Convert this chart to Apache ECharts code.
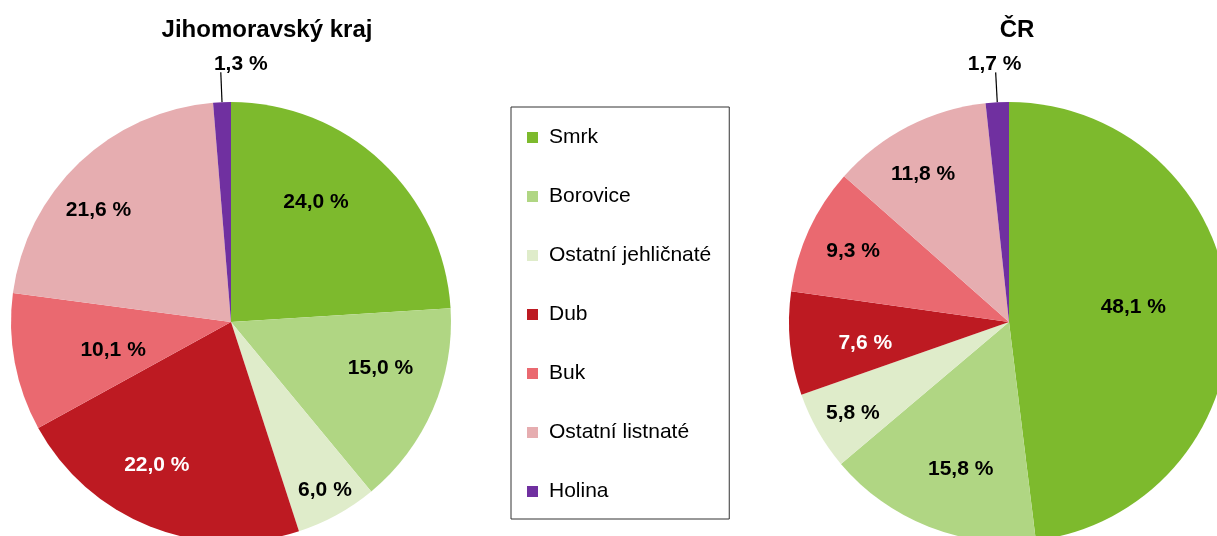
<!DOCTYPE html>
<html>
<head>
<meta charset="utf-8">
<script src="https://cdn.jsdelivr.net/npm/echarts@6/dist/echarts.min.js"></script>
<style>
  html, body { margin: 0; padding: 0; background: #fff; }
  #chart { width: 1217px; height: 536px; }
</style>
</head>
<body>
<div id="chart"></div>
<script>
// druhy dřevin (legenda)
const categories = ["Smrk", "Borovice", "Ostatní jehličnaté", "Dub", "Buk", "Ostatní listnaté", "Holina"];
// podíly v % - Jihomoravský kraj
const jmkValues = [24.0, 15.0, 6.0, 22.0, 10.1, 21.6, 1.3];
// podíly v % - ČR
const crValues = [48.1, 15.8, 5.8, 7.6, 9.3, 11.8, 1.7];
const titles = ["Jihomoravský kraj", "ČR"];

const FONT = "'Liberation Sans', Arial, Helvetica, sans-serif";
const colors = ["#7dba2d", "#b0d683", "#dfecca", "#bd1a22", "#ea6970", "#e6adb0", "#7030a0"];
// umístění popisků jako "best fit" v Excelu:
// vzdálenost od středu (podíl poloměru) a pootočení od středu výseče (stupně)
const labelDist = [
  [0.67, 0.71, 0.87, 0.73, 0.55, 0.79],
  [0.57, 0.70, 0.82, 0.66, 0.78, 0.78]
];
const labelTurn = [
  [-8, -6.6, -0.6, 5.9, -2.4, -6.1],
  [-3.9, -3.1, -0.3, -2.5, 0, -2.7]
];

const R = 220;

function fmt(v) {
  return v.toFixed(1).replace(".", ",") + " %";
}

function buildPie(values, idx, center, holinaShift) {
  return {
    type: "pie",
    center: center,
    radius: R,
    startAngle: 90,
    clockwise: true,
    avoidLabelOverlap: false,
    animation: false,
    data: values.map(function (v, i) {
      const last = i === values.length - 1;
      return {
        name: categories[i],
        value: v,
        itemStyle: { color: colors[i] },
        label: last
          ? { position: "outside", color: "#000" }
          : { position: "inside", color: i === 3 ? "#fff" : "#000" },
        labelLine: { show: last }
      };
    }),
    label: {
      formatter: function (p) { return fmt(p.value); },
      fontFamily: FONT,
      fontWeight: "bold",
      fontSize: 21
    },
    labelLine: {
      length: 30,
      length2: 0,
      lineStyle: { color: "#000", width: 1.2 }
    },
    labelLayout: function (params) {
      if (params.dataIndex === values.length - 1) {
        const pts = params.labelLinePoints;
        const end = pts[pts.length - 1];
        return {
          x: end[0] + holinaShift,
          y: end[1] - 8,
          align: "center",
          verticalAlign: "middle",
          labelLinePoints: pts
        };
      }
      const r = params.labelRect;
      const lx = r.x + r.width / 2;
      const ly = r.y + r.height / 2;
      // úhel středu výseče (po směru hodin od vrcholu)
      const mid = Math.atan2(lx - center[0], center[1] - ly);
      const a = mid + labelTurn[idx][params.dataIndex] * Math.PI / 180;
      const d = labelDist[idx][params.dataIndex] * R;
      return {
        x: center[0] + d * Math.sin(a),
        y: center[1] - d * Math.cos(a) + 1,
        align: "center",
        verticalAlign: "middle"
      };
    }
  };
}

const chart = echarts.init(document.getElementById("chart"));
chart.setOption({
  backgroundColor: "#fff",
  animation: false,
  title: [
    { text: titles[0], left: 267, top: 18, textAlign: "center", padding: 0,
      textStyle: { fontSize: 24, fontWeight: "bold", fontFamily: FONT, color: "#000" } },
    { text: titles[1], left: 1017, top: 18, textAlign: "center", padding: 0,
      textStyle: { fontSize: 24, fontWeight: "bold", fontFamily: FONT, color: "#000" } }
  ],
  legend: {
    orient: "vertical",
    left: 511,
    top: 107,
    data: categories,
    icon: "rect",
    itemWidth: 11,
    itemHeight: 11,
    itemGap: 38,
    padding: [20, 18, 17, 16],
    borderColor: "#333",
    borderWidth: 1,
    selectedMode: false,
    textStyle: {
      fontSize: 21,
      fontFamily: FONT,
      color: "#000",
      lineHeight: 21,
      padding: [0, 0, 0, 6]
    }
  },
  series: [
    buildPie(jmkValues, 0, [231, 322], 20),
    buildPie(crValues, 1, [1009, 322], -1)
  ]
});
</script>
</body>
</html>
